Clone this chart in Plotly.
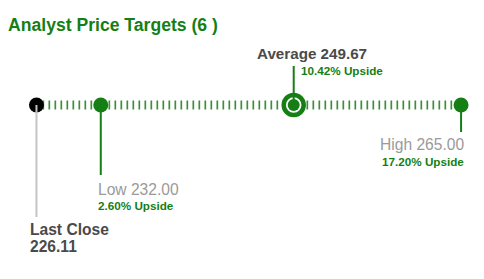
import plotly.graph_objects as go

# ---- data ----
labels = ["Last Close", "Low", "Average", "High"]
values = [226.11, 232.00, 249.67, 265.00]
upside = [None, "2.60% Upside", "10.42% Upside", "17.20% Upside"]
title_text = "Analyst Price Targets (6 )"

GREEN = "#157f15"
TICK_GREEN = "#3d8f3d"
DARK = "#4a4a4a"
GRAY = "#9a9a9a"
FONT = "Liberation Sans, Arial, sans-serif"

last, low, avg, high = values
LINE_Y = 105

fig = go.Figure()

# dashed tick line between last close and high
fig.add_trace(go.Scatter(
    x=[last, high], y=[LINE_Y, LINE_Y], mode="lines",
    line=dict(color=TICK_GREEN, width=9, dash="1.7px,4.3px"),
    hoverinfo="skip", showlegend=False))

# vertical connector lines
fig.add_shape(type="line", x0=last, x1=last, y0=LINE_Y, y1=217,
              line=dict(color="#c4c4c4", width=2))
fig.add_shape(type="line", x0=low, x1=low, y0=LINE_Y, y1=175,
              line=dict(color=GREEN, width=2))
fig.add_shape(type="line", x0=avg, x1=avg, y0=66, y1=LINE_Y,
              line=dict(color=GREEN, width=2))
fig.add_shape(type="line", x0=high, x1=high, y0=LINE_Y, y1=132,
              line=dict(color=GREEN, width=2))

# markers
fig.add_trace(go.Scatter(
    x=[last], y=[LINE_Y], mode="markers",
    marker=dict(color="black", size=15, line=dict(width=0)),
    hoverinfo="skip", showlegend=False))
fig.add_trace(go.Scatter(
    x=[low, high], y=[LINE_Y, LINE_Y], mode="markers",
    marker=dict(color=GREEN, size=15, line=dict(width=0)),
    hoverinfo="skip", showlegend=False))
fig.add_trace(go.Scatter(
    x=[avg], y=[LINE_Y], mode="markers",
    marker=dict(color="white", size=20, line=dict(color=GREEN, width=4.5)),
    hoverinfo="skip", showlegend=False))
fig.add_trace(go.Scatter(
    x=[avg], y=[LINE_Y], mode="markers",
    marker=dict(color=GREEN, size=12, line=dict(width=0)),
    hoverinfo="skip", showlegend=False))

ann = []
def A(text, x, y, size, color, bold, xanchor, xshift, xref="x"):
    t = f"<b>{text}</b>" if bold else text
    ann.append(dict(text=t, x=x, y=y, xref=xref, yref="y", showarrow=False,
                    xanchor=xanchor, yanchor="middle", xshift=xshift,
                    font=dict(family=FONT, size=size, color=color)))

A(title_text, 0, 25, 17.6, GREEN, True, "left", 6, xref="paper")
A(f"Average {avg:.2f}", avg, 53, 15.2, DARK, True, "left", -39)
A(upside[2], avg, 70, 11.7, GREEN, True, "left", 5)
A(f"High {high:.2f}", high, 144, 15.6, GRAY, False, "right", 5)
A(upside[3], high, 161, 11.7, GREEN, True, "right", 5)
A(f"Low {low:.2f}", low, 189, 15.6, GRAY, False, "left", -5)
A(upside[1], low, 205, 11.7, GREEN, True, "left", -5)
A("Last Close", last, 229, 15.6, DARK, True, "left", -8.5)
A(f"{last:.2f}", last, 246, 15.6, DARK, True, "left", -8.5)

fig.update_layout(
    width=484, height=279,
    margin=dict(l=0, r=0, t=0, b=0),
    paper_bgcolor="white", plot_bgcolor="white",
    xaxis=dict(range=[222.77, 267.10], visible=False, fixedrange=True),
    yaxis=dict(range=[279, 0], visible=False, fixedrange=True),
    annotations=ann,
    showlegend=False,
)

fig.write_html("out.html", config={"displayModeBar": False})
